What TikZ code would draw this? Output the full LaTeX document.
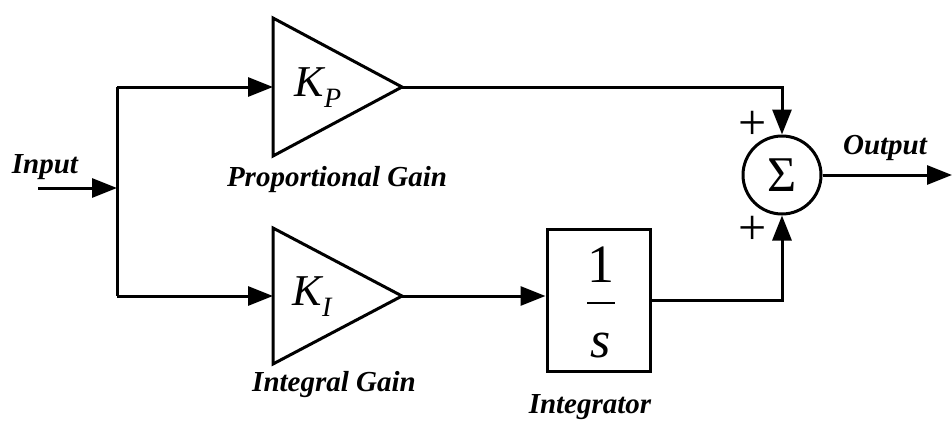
\documentclass[tikz,border=0pt]{standalone}
\usepackage{fontspec}
\setmainfont{Liberation Serif}
\usetikzlibrary{arrows.meta}
\tikzset{
  wire/.style={line width=3pt},
  arr/.style={wire, -{Triangle[length=25pt,width=19pt]}},
  lbl/.style={font=\fontsize{29}{32}\selectfont\bfseries\itshape, inner sep=0pt},
  gain/.style={font=\fontsize{44}{48}\selectfont\itshape, inner sep=0pt},
  sym/.style={font=\fontsize{50}{54}\selectfont, inner sep=0pt},
}
\begin{document}
\begin{tikzpicture}[x=1pt,y=-1pt]
\useasboundingbox (0,0) rectangle (952,421);
% gains
\coordinate (kptop) at (273,18);
\coordinate (kpin) at (273,87);
\coordinate (kpout) at (402,87);
\coordinate (kpbot) at (273,156);
\draw[wire, line join=miter] (kptop) -- (kpout) -- (kpbot) -- cycle;
\node[gain, anchor=base] (kp) at (318,96) {K\raisebox{-0.25em}{\fontsize{28}{30}\selectfont P}};
\coordinate (kitop) at (273,228);
\coordinate (kiin) at (273,296);
\coordinate (kiout) at (402,296);
\coordinate (kibot) at (273,364);
\draw[wire, line join=miter] (kitop) -- (kiout) -- (kibot) -- cycle;
\node[gain, anchor=base] (ki) at (312,305) {K\raisebox{-0.25em}{\fontsize{28}{30}\selectfont I}};
% integrator
\node[draw, wire, minimum width=103pt, minimum height=142pt, inner sep=0pt] (int) at (598.5,300) {};
\node[font=\fontsize{54}{56}\selectfont, inner sep=0pt, anchor=base] (one) at (601,282) {1};
\coordinate (barl) at (587,303);
\coordinate (barr) at (615,303);
\draw[line width=2pt] (barl) -- (barr);
\node[font=\fontsize{52}{56}\selectfont\itshape, inner sep=0pt, anchor=base] (s) at (601,357) {s};
% sum
\node[circle, draw, wire, minimum size=78pt, inner sep=0pt] (sum) at (782,175) {};
\node[sym] (sigma) at (sum.center) {Σ};
\node[sym] (p1) at (753,125) {+};
\node[sym] (p2) at (753,230) {+};
% input
\coordinate (in) at (38,188);
\coordinate (split) at (117,188);
\coordinate (stop) at (117,87);
\coordinate (sbot) at (117,296);
\coordinate (outend) at (952,175);
\draw[wire] (stop) -- (sbot);
\draw[arr] (in) -- (split);
\draw[arr] (stop) -- (kpin);
\draw[arr] (sbot) -- (kiin);
\draw[arr] (kiout) -- (kiout -| int.west);
\draw[arr] (kpout) -| (sum.north);
\draw[arr] (int.east) -| (sum.south);
\draw[arr] (sum.east) -- (outend);
% labels
\node[lbl] (linput) at (45,167) {Input};
\node[lbl] (lprop) at (337,180) {Proportional Gain};
\node[lbl] (lint) at (334,385) {Integral Gain};
\node[lbl] (lintg) at (590,407) {Integrator};
\node[lbl] (lout) at (885,148) {Output};
\end{tikzpicture}
\end{document}
